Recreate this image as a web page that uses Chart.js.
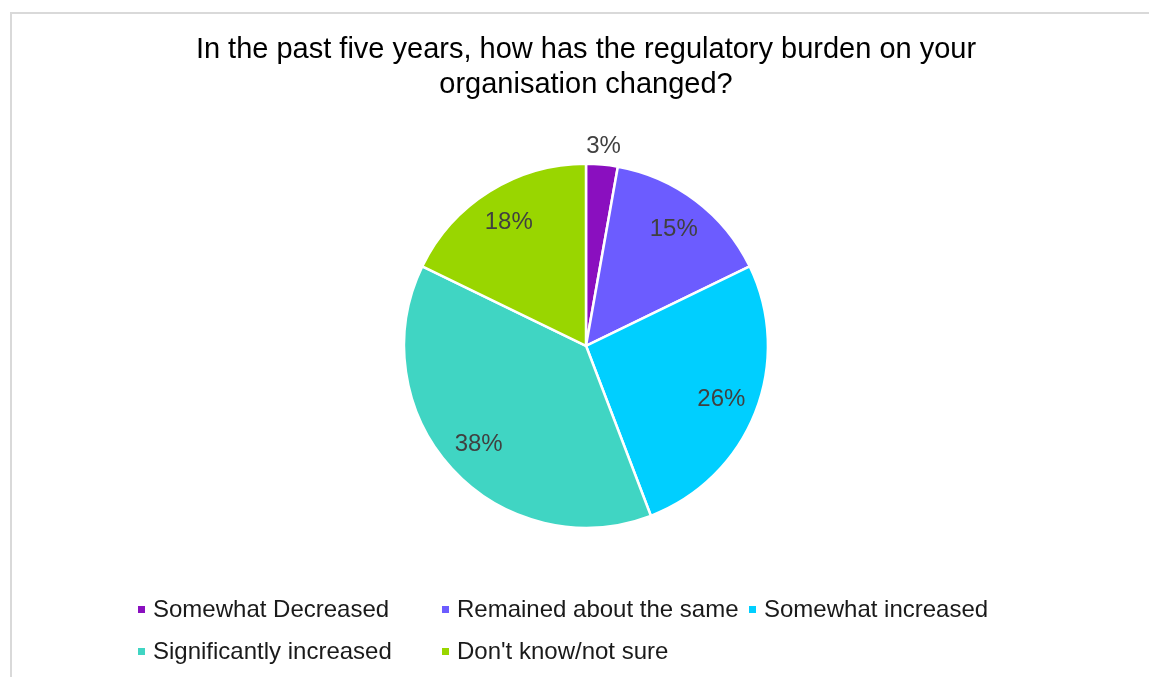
<!DOCTYPE html>
<html>
<head>
<meta charset="utf-8">
<script src="https://cdn.jsdelivr.net/npm/chart.js@4/dist/chart.umd.min.js"></script>
<style>
  body { margin: 0; background: #fff; }
  #frame { position: absolute; left: 10px; top: 12px; width: 1200px; height: 700px;
           border-left: 2px solid #d9d9d9; border-top: 2px solid #d9d9d9; }
  #wrap { position: absolute; left: 0; top: 0; width: 1149px; height: 677px; }
</style>
</head>
<body>
<div id="frame"></div>
<div id="wrap"><canvas id="chart"></canvas></div>
<script>
// Survey answers and share of respondents (%)
const categories = ['Somewhat Decreased', 'Remained about the same', 'Somewhat increased',
                    'Significantly increased', "Don't know/not sure"];
const shares = [2.8, 15.0, 26.4, 38.0, 17.8];
const colors = ['#8a0fbf', '#6c5cff', '#00cfff', '#40d5c3', '#99d600'];

const FONT = 'Arial, "Liberation Sans", sans-serif';

// percent labels on the slices (first one sits outside the pie)
const sliceLabels = {
    id: 'sliceLabels',
    afterDatasetsDraw(chart) {
        const ctx = chart.ctx;
        const arcs = chart.getDatasetMeta(0).data;
        ctx.save();
        ctx.font = '24px ' + FONT;
        ctx.fillStyle = '#404040';
        ctx.textAlign = 'center';
        ctx.textBaseline = 'middle';
        arcs.forEach((arc, i) => {
            const mid = (arc.startAngle + arc.endAngle) / 2;
            const r = arc.outerRadius * (i === 0 ? 1.1 : 0.8);
            const x = arc.x + Math.cos(mid) * r;
            const y = arc.y + Math.sin(mid) * r;
            ctx.fillText(Math.round(shares[i]) + '%', x, y);
        });
        ctx.restore();
    }
};

// legend in the bottom band, laid out in columns like the original
const gridLegend = {
    id: 'gridLegend',
    afterDraw(chart) {
        const ctx = chart.ctx;
        const cols = [138, 442, 749];
        const rows = [610, 652];
        ctx.save();
        ctx.font = '24px ' + FONT;
        ctx.textBaseline = 'middle';
        ctx.textAlign = 'left';
        chart.data.labels.forEach((label, i) => {
            const x = cols[i % 3];
            const y = rows[Math.floor(i / 3)];
            ctx.fillStyle = colors[i];
            ctx.fillRect(x, y - 4, 7, 7);
            ctx.fillStyle = '#1a1a1a';
            ctx.fillText(label, x + 15, y);
        });
        ctx.restore();
    }
};

new Chart(document.getElementById('chart'), {
    type: 'pie',
    data: {
        labels: categories,
        datasets: [{
            data: shares,
            backgroundColor: colors,
            borderColor: '#ffffff',
            borderWidth: 2.5
        }]
    },
    options: {
        responsive: true,
        maintainAspectRatio: false,
        animation: false,
        layout: { padding: { left: 23, right: 0, top: 0, bottom: 148 } },
        plugins: {
            legend: { display: false },
            tooltip: { enabled: false },
            title: {
                display: true,
                text: ['In the past five years, how has the regulatory burden on your',
                       'organisation changed?'],
                color: '#000000',
                font: { family: FONT, size: 29, weight: 'normal', lineHeight: 1.2 },
                padding: { top: 33, bottom: 60 }
            }
        }
    },
    plugins: [sliceLabels, gridLegend]
});
</script>
</body>
</html>
